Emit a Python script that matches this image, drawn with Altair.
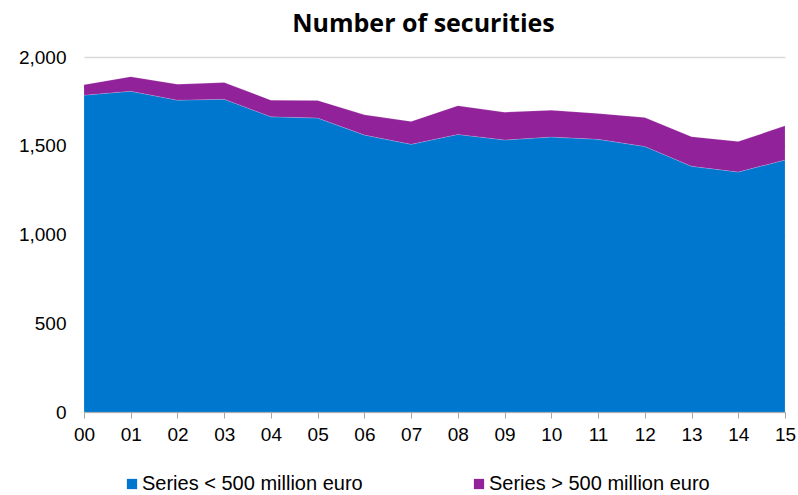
import altair as alt
import pandas as pd

years = ["00","01","02","03","04","05","06","07","08","09","10","11","12","13","14","15"]
small = [1785,1807,1757,1762,1663,1656,1560,1508,1564,1532,1549,1536,1496,1384,1352,1420]
large = [58,82,89,94,94,99,114,129,161,157,151,146,163,167,172,192]
series = ["Series < 500 million euro", "Series > 500 million euro"]
colors = ["#0077CE", "#912299"]

rows = []
for i, y in enumerate(years):
    rows.append({"year": y, "series": series[0], "value": small[i], "order": 0})
    rows.append({"year": y, "series": series[1], "value": large[i], "order": 1})
df = pd.DataFrame(rows)

font = "Liberation Sans"

chart = alt.Chart(df).mark_area(opacity=1, stroke="#ffffff", strokeWidth=0.5, strokeOpacity=0.3).encode(
    x=alt.X("year:O", sort=years, scale=alt.Scale(type="point", padding=0),
            axis=alt.Axis(title=None, labelAngle=0, labelFontSize=19, labelFont=font,
                          labelColor="#000000", domainColor="#a6a6a6", tickColor="#a6a6a6",
                          tickSize=6, labelPadding=7, grid=False)),
    y=alt.Y("value:Q", stack="zero", scale=alt.Scale(domain=[0, 2000], nice=False),
            axis=alt.Axis(title=None, values=[0, 500, 1000, 1500, 2000], format=",d",
                          labelFontSize=19, labelFont=font, labelColor="#000000",
                          ticks=False, domain=False, labelPadding=18,
                          gridColor="#d9d9d9", gridWidth=1.5)),
    color=alt.Color("series:N", sort=series,
                    scale=alt.Scale(domain=series, range=colors),
                    legend=alt.Legend(title=None, orient="none", legendX=38, legendY=417,
                                      direction="horizontal", symbolType="square",
                                      symbolSize=105, symbolStrokeWidth=0,
                                      labelFontSize=20, labelFont=font, labelColor="#000000",
                                      columnPadding=106, labelOffset=0, labelLimit=400)),
    order=alt.Order("order:Q"),
).properties(
    width=701, height=355,
    title=alt.TitleParams("Number of securities", fontSize=25, font="Open Sans", fontWeight="bold",
                          anchor="middle", dx=-11, offset=11, color="#000000"),
    padding={"left": 84, "top": 57, "right": 13, "bottom": 83},
    autosize=alt.AutoSizeParams(type="none"),
).configure_view(stroke=None)

chart.save("out.html", embed_options={"renderer": "svg", "actions": False})
